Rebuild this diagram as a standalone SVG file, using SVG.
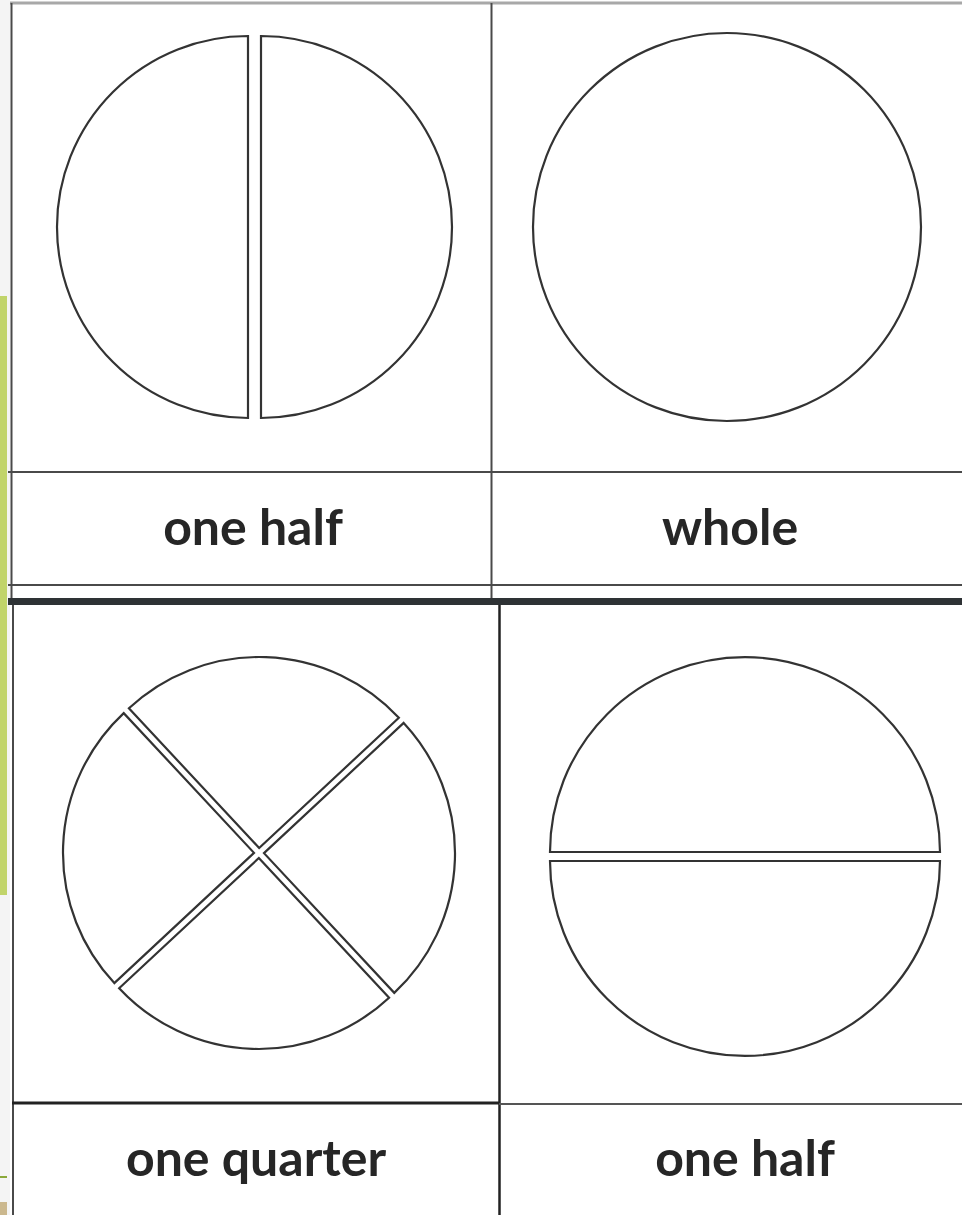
<svg xmlns="http://www.w3.org/2000/svg" width="962" height="1215" viewBox="0 0 962 1215">
<style>
.shape{fill:#ffffff;stroke:#333333;stroke-width:2.2;stroke-linejoin:miter}
.grid{stroke:#4a4a4a;stroke-width:2;fill:none}
.label{font-family:Lato,"Open Sans","Liberation Sans",sans-serif;font-weight:bold;font-size:50px;fill:#262626;text-anchor:middle}
</style>
<rect x="0" y="0" width="962" height="1215" fill="#ffffff"/>
<rect x="0" y="0" width="10" height="1215" fill="#f4f4f4"/>
<rect x="0" y="296" width="7" height="599" fill="#c1d46a"/>
<rect x="0" y="1176" width="7" height="2" fill="#8aa83a"/>
<rect x="0" y="1202" width="7" height="13" fill="#cbb88e"/>
<g id="grid">
<line x1="10" y1="3" x2="962" y2="3" stroke="#a8a8a8" stroke-width="3"/>
<line x1="11.5" y1="3" x2="11.5" y2="598" class="grid"/>
<line x1="13" y1="605" x2="13" y2="1215" class="grid" stroke-width="2.5"/>
<line x1="491.5" y1="3" x2="491.5" y2="598" class="grid"/>
<line x1="499.5" y1="605" x2="499.5" y2="1215" stroke="#222" stroke-width="2.5"/>
<line x1="8" y1="472" x2="962" y2="472" class="grid"/>
<line x1="8" y1="585" x2="962" y2="585" class="grid" stroke="#666"/>
<rect x="8" y="598" width="954" height="7" fill="#2e3235"/>
<line x1="12" y1="1103" x2="499" y2="1103" stroke="#222" stroke-width="3"/>
<line x1="499" y1="1104" x2="962" y2="1104" stroke="#555" stroke-width="2"/>
</g>
<g id="card-one-half-vertical">
<path class="shape" d="M248,36 A191,191 0 0 0 248,418 Z"/>
<path class="shape" d="M261,36 A191,191 0 0 1 261,418 Z"/>
<text class="label" x="253" y="545">one half</text>
</g>
<g id="card-whole">
<circle class="shape" cx="727" cy="227" r="194"/>
<text class="label" x="730" y="545">whole</text>
</g>
<g id="card-one-quarter">
<g transform="translate(259,853) rotate(2)">
<path class="shape" d="M0,-5 L-135.06,-140.06 A191,191 0 0 1 135.06,-140.06 Z"/>
<path class="shape" d="M5,0 L140.06,-135.06 A191,191 0 0 1 140.06,135.06 Z"/>
<path class="shape" d="M0,5 L135.06,140.06 A191,191 0 0 1 -135.06,140.06 Z"/>
<path class="shape" d="M-5,0 L-140.06,135.06 A191,191 0 0 1 -140.06,-135.06 Z"/>
</g>
<text class="label" x="256" y="1176">one quarter</text>
</g>
<g id="card-one-half-horizontal">
<path class="shape" d="M550,852 A195,195 0 0 1 940,852 Z"/>
<path class="shape" d="M550,861 A195,195 0 0 0 940,861 Z"/>
<text class="label" x="745" y="1176">one half</text>
</g>
</svg>
